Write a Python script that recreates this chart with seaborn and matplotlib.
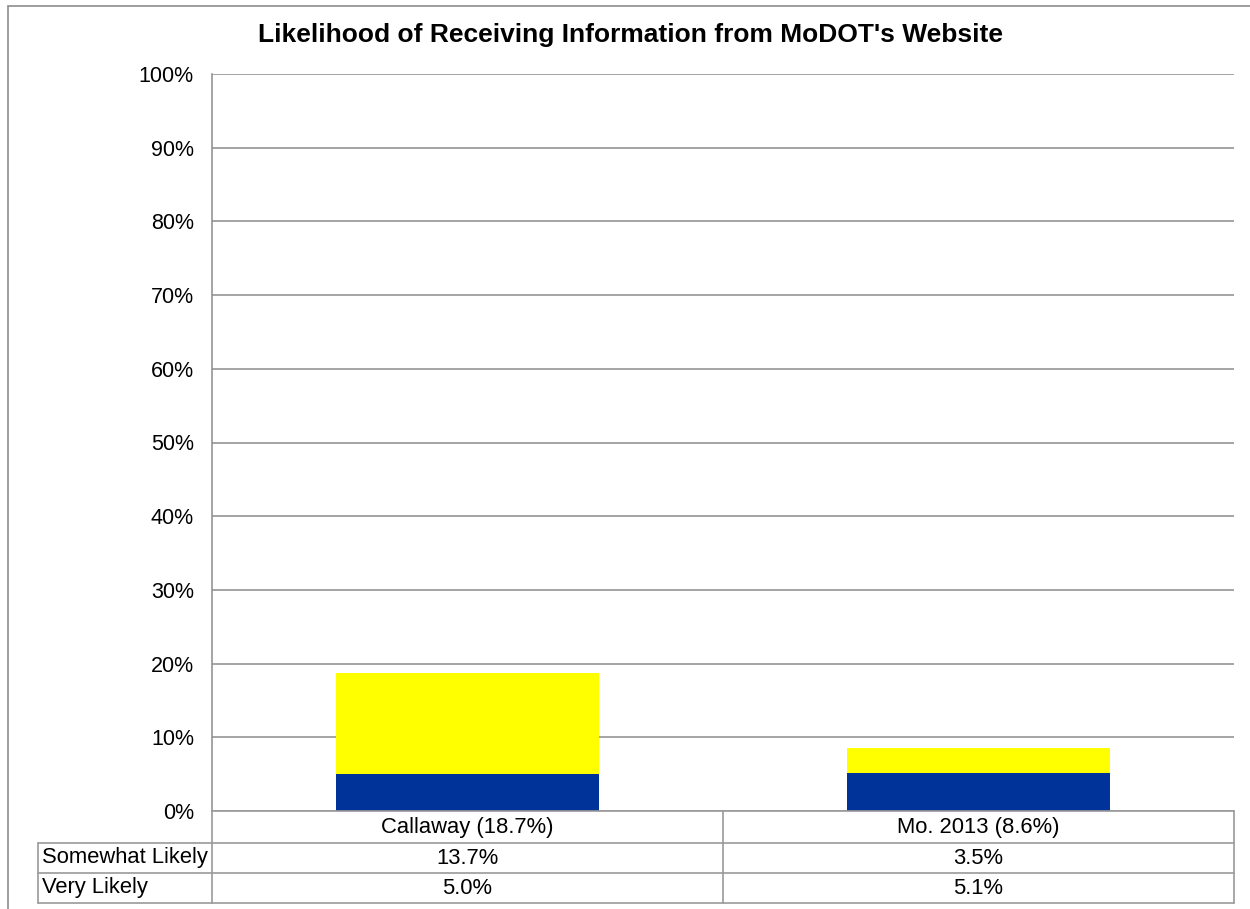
import matplotlib
matplotlib.use("Agg")
import matplotlib.pyplot as plt
import seaborn as sns
import pandas as pd
from matplotlib.ticker import PercentFormatter
from matplotlib.patches import Rectangle
from matplotlib.lines import Line2D

# data
groups = ["Callaway (18.7%)", "Mo. 2013 (8.6%)"]
somewhat_likely = [13.7, 3.5]
very_likely = [5.0, 5.1]
series_names = ["Somewhat Likely", "Very Likely"]
y_ticks = list(range(0, 101, 10))

df = pd.DataFrame({"group": groups,
                   "somewhat": somewhat_likely,
                   "very": very_likely})
df["total"] = df["somewhat"] + df["very"]

sns.set_theme(style="white")
plt.rcParams["font.family"] = ["Liberation Sans", "DejaVu Sans"]
plt.rcParams["text.color"] = "black"

W, H = 1250, 909
fig = plt.figure(figsize=(W / 100, H / 100), dpi=100)


def px(x):
    return x / W


def py(y):
    return 1 - y / H


ax = fig.add_axes([px(212), py(811), px(1234) - px(212), py(74) - py(811)])

# stacked: total in yellow, very likely in blue drawn over it
sns.barplot(data=df, x="group", y="total", color="#FFFF00", width=0.515,
            saturation=1, ax=ax, linewidth=0)
sns.barplot(data=df, x="group", y="very", color="#003399", width=0.515,
            saturation=1, ax=ax, linewidth=0)

ax.set_ylim(0, 100)
ax.set_xlim(-0.5, 1.5)
ax.set_yticks(y_ticks)
ax.yaxis.set_major_formatter(PercentFormatter(decimals=0))
ax.tick_params(axis="y", length=0, pad=13, labelsize=15.5, colors="black")
ax.set_xticks([])
ax.set_xlabel("")
ax.set_ylabel("")
ax.grid(True, axis="y", color="#8c8c8c", linewidth=1.1)
ax.set_axisbelow(True)
for s in ["top", "right", "bottom"]:
    ax.spines[s].set_visible(False)
ax.spines["left"].set_color("#8c8c8c")
ax.spines["left"].set_linewidth(1.1)

# data table under the plot (drawn by hand, Excel style)
line_kw = dict(transform=fig.transFigure, color="#9a9a9a", linewidth=1.2)
col_x = [212, 723, 1234]
row_y = [811, 843, 873, 903]
for x in col_x:
    fig.add_artist(Line2D([px(x), px(x)], [py(811), py(903)], **line_kw))
fig.add_artist(Line2D([px(38), px(38)], [py(843), py(903)], **line_kw))
fig.add_artist(Line2D([px(212), px(1234)], [py(811), py(811)], **line_kw))
for y in row_y[1:]:
    fig.add_artist(Line2D([px(38), px(1234)], [py(y), py(y)], **line_kw))

fs = 15.8
for i, g in enumerate(groups):
    xc = (col_x[i] + col_x[i + 1]) / 2
    fig.text(px(xc), py((row_y[0] + row_y[1]) / 2), g, ha="center", va="center", fontsize=fs)
rows = [somewhat_likely, very_likely]
for r, (name, vals) in enumerate(zip(series_names, rows)):
    yc = (row_y[r + 1] + row_y[r + 2]) / 2
    fig.text(px(42), py(yc), name, ha="left", va="center", fontsize=fs)
    for i, v in enumerate(vals):
        xc = (col_x[i] + col_x[i + 1]) / 2
        fig.text(px(xc), py(yc), f"{v:.1f}%", ha="center", va="center", fontsize=fs)

fig.text(px(630), py(35), "Likelihood of Receiving Information from MoDOT's Website",
         ha="center", va="center", fontsize=19, fontweight="bold")

# outer chart frame
fig.add_artist(Rectangle((px(8), -0.05), 1.1, py(6) + 0.05,
                         transform=fig.transFigure, fill=False,
                         edgecolor="#8c8c8c", linewidth=1.2))

fig.savefig("out.png", dpi=100)
